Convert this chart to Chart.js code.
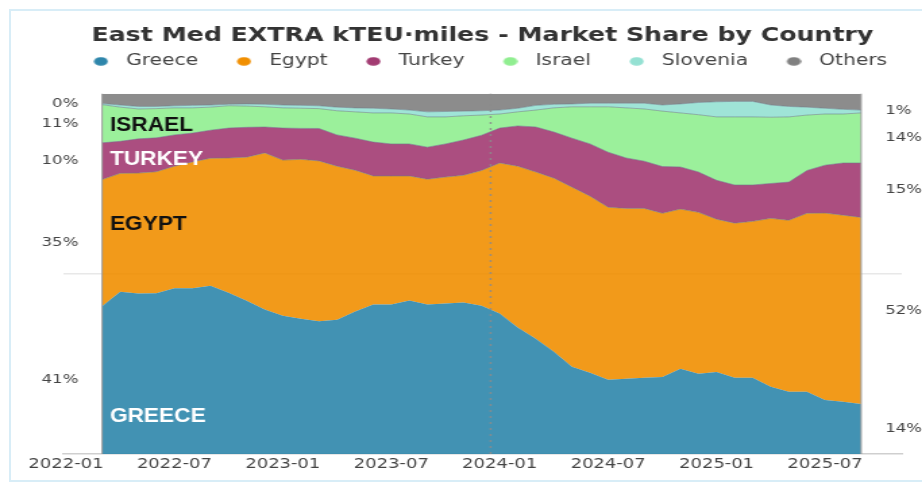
<!DOCTYPE html>
<html>
<head>
<meta charset="utf-8">
<script src="https://cdn.jsdelivr.net/npm/chart.js@4.4.1/dist/chart.umd.min.js"></script>
<style>
    html, body { margin: 0; padding: 0; background: #fff; }
    body { width: 922px; height: 482px; overflow: hidden; position: relative; }
    #frame { position: absolute; left: 9px; top: 9px; width: 930px; height: 469px; border: 2px solid #d8edf7; }
    /* the reference is a horizontally stretched figure, so the canvas is too */
    #wrap { position: absolute; left: 0; top: 0; width: 683px; height: 482px; transform: scaleX(1.35); transform-origin: 0 0; }
</style>
</head>
<body>
<div id="frame"></div>
<div id="wrap"><canvas id="share-chart" width="683" height="482" style="width:683px;height:482px"></canvas></div>
<script>
const months = [
    "2022-03", "2022-04", "2022-05", "2022-06", "2022-07", "2022-08", "2022-09", "2022-10", "2022-11", "2022-12",
    "2023-01", "2023-02", "2023-03", "2023-04", "2023-05", "2023-06", "2023-07", "2023-08", "2023-09", "2023-10",
    "2023-11", "2023-12", "2024-01", "2024-02", "2024-03", "2024-04", "2024-05", "2024-06", "2024-07", "2024-08",
    "2024-09", "2024-10", "2024-11", "2024-12", "2025-01", "2025-02", "2025-03", "2025-04", "2025-05", "2025-06",
    "2025-07", "2025-08", "2025-09"
];

// market share, %
const greece = [41.0, 45.1, 44.6, 44.6, 46.0, 46.0, 46.8, 44.8, 42.6, 40.1,
    38.4, 37.6, 36.8, 37.3, 39.6, 41.5, 41.5, 42.6, 41.5, 41.8,
    42.1, 41.2, 39.0, 35.1, 32.0, 28.4, 24.2, 22.6, 20.6, 20.9,
    21.2, 21.4, 23.7, 22.3, 22.8, 21.2, 21.2, 18.7, 17.3, 17.3,
    15.0, 14.5, 13.9];
const egypt = [35.2, 32.9, 33.4, 33.7, 33.9, 35.1, 35.4, 37.4, 39.9, 43.5,
    43.2, 44.3, 44.5, 42.6, 39.2, 35.7, 35.7, 34.6, 34.8, 35.1,
    35.3, 37.6, 41.8, 44.8, 46.3, 48.2, 49.9, 49.0, 47.9, 47.3,
    47.0, 45.5, 44.3, 44.8, 42.4, 42.9, 43.4, 46.8, 47.6, 49.6,
    51.9, 51.8, 51.8];
const turkey = [10.2, 8.9, 9.5, 9.4, 8.7, 8.0, 7.8, 8.3, 8.3, 7.2,
    8.9, 8.6, 9.0, 8.7, 8.9, 9.4, 8.9, 8.9, 8.9, 9.2,
    9.8, 9.8, 9.7, 11.2, 12.5, 12.8, 13.6, 14.5, 15.3, 14.0,
    13.1, 13.0, 11.7, 11.2, 10.8, 10.6, 10.1, 9.7, 10.6, 11.9,
    13.3, 14.5, 15.1];
const israel = [10.6, 9.5, 8.3, 8.1, 7.5, 7.0, 6.4, 6.2, 5.9, 5.6,
    5.6, 5.6, 5.5, 6.7, 7.3, 8.1, 8.6, 8.3, 8.4, 7.5,
    6.7, 5.6, 3.9, 3.9, 4.7, 6.7, 8.7, 10.3, 12.6, 13.9,
    14.5, 15.4, 15.0, 15.9, 17.6, 18.9, 18.9, 18.4, 18.1, 15.4,
    14.2, 13.6, 13.9];
const slovenia = [0.3, 0.6, 0.7, 0.6, 0.6, 0.7, 0.6, 0.4, 0.6, 0.7,
    0.8, 0.8, 0.8, 1.0, 1.1, 1.3, 1.1, 1.1, 1.4, 1.5,
    1.3, 1.2, 1.1, 1.0, 1.3, 1.0, 0.8, 1.0, 1.0, 1.3,
    1.6, 1.7, 2.5, 3.4, 4.2, 4.3, 4.3, 3.4, 2.9, 2.2,
    1.6, 1.3, 0.8];
const others = [2.7, 3.1, 3.5, 3.5, 3.3, 3.2, 3.1, 2.9, 2.8, 2.9,
    3.1, 3.2, 3.3, 3.7, 3.9, 4.0, 4.2, 4.5, 5.0, 4.9,
    4.8, 4.7, 4.5, 4.0, 3.2, 2.9, 2.8, 2.6, 2.6, 2.6,
    2.6, 3.1, 2.8, 2.4, 2.2, 2.1, 2.1, 3.1, 3.5, 3.7,
    4.0, 4.3, 4.5];

const seriesNames = ["Greece", "Egypt", "Turkey", "Israel", "Slovenia", "Others"];
const seriesValues = [greece, egypt, turkey, israel, slovenia, others];
const seriesColors = ["#2E86AB", "#F18F01", "#A23B72", "#90EE90", "#95E1D3", "#808080"];

const tickLabels = ["2022-01", "2022-07", "2023-01", "2023-07", "2024-01", "2024-07", "2025-01", "2025-07"];
const markerMonth = "2023-12";

const bandLabels = ["GREECE", "EGYPT", "TURKEY", "ISRAEL"];
const bandLabelShare = [10.9, 64.2, 82.3, 91.7];
const bandLabelColors = ["#ffffff", "#111111", "#ffffff", "#111111"];

const monthIndex = function (code) {
    return (Number(code.slice(0, 4)) - 2022) * 12 + Number(code.slice(5, 7)) - 1;
};

const withAlpha = function (hex, alpha) {
    const n = parseInt(hex.slice(1), 16);
    return `rgba(${(n >> 16) & 255}, ${(n >> 8) & 255}, ${n & 255}, ${alpha})`;
};

// legend marker: a small dot, drawn a little right of the image centre
const makeDot = function (color) {
    const dot = document.createElement("canvas");
    dot.width = 17;
    dot.height = 9;
    const g = dot.getContext("2d");
    g.fillStyle = color;
    g.beginPath();
    g.ellipse(11.5, 4.5, 5.2, 4.3, 0, 0, Math.PI * 2);
    g.fill();
    return dot;
};

// shares of each month, rescaled so the stack closes at 100 %
const totals = months.map((m, i) => seriesValues.reduce((sum, s) => sum + s[i], 0));
const shares = seriesValues.map(s => s.map((v, i) => v / totals[i] * 100));

const datasets = seriesNames.map((name, k) => ({
    label: name,
    data: months.map((m, i) => ({x: monthIndex(m), y: shares[k][i]})),
    fill: k === 0 ? "origin" : "-1",
    backgroundColor: withAlpha(seriesColors[k], 0.9),
    borderColor: (k === 0 || k === 5) ? "rgba(0,0,0,0)" : "rgba(105, 120, 135, 0.55)",
    borderWidth: 1,
    pointRadius: 0,
    pointHoverRadius: 0,
    pointStyle: makeDot(seriesColors[k]),
    tension: 0
}));

const overlayPlugin = {
    id: "overlay",
    afterDraw(chart) {
        const {ctx} = chart;
        const x = chart.scales.x, y = chart.scales.y;
        const first = 0, last = months.length - 1;
        const x0 = x.getPixelForValue(monthIndex(months[first]));
        const x1 = x.getPixelForValue(monthIndex(months[last]));
        const top = y.getPixelForValue(100), bottom = y.getPixelForValue(0);

        ctx.save();

        // edges of the stacked area
        ctx.strokeStyle = "rgba(150, 150, 150, 0.9)";
        ctx.lineWidth = 1.1;
        ctx.beginPath();
        ctx.moveTo(x0, bottom); ctx.lineTo(x0, top);
        ctx.moveTo(x1, bottom); ctx.lineTo(x1, top);
        ctx.stroke();

        // dotted marker
        const xm = x.getPixelForValue(monthIndex(markerMonth) + 0.5);
        ctx.setLineDash([2, 4]);
        ctx.lineWidth = 1.5;
        ctx.strokeStyle = "rgba(140, 140, 140, 0.85)";
        ctx.beginPath();
        ctx.moveTo(xm, bottom); ctx.lineTo(xm, top);
        ctx.stroke();
        ctx.setLineDash([]);

        // start / end share labels
        const labelSide = function (i, px, align, shift) {
            let base = 0;
            ctx.textAlign = align;
            for (let k = 0; k < 5; k++) {
                const v = shares[k][i];
                const mid = y.getPixelForValue(base + v / 2);
                ctx.fillText(Math.round(v) + "%", px, mid + shift);
                base += v;
            }
        };
        ctx.font = "12.3px 'DejaVu Sans'";
        ctx.fillStyle = "#444";
        ctx.textBaseline = "alphabetic";
        labelSide(first, x0 - 17.5, "right", 3.2);
        labelSide(last, x1 + 17.8, "left", 3);

        // country names in the bands
        ctx.font = "bold 21px 'Liberation Sans'";
        ctx.textAlign = "left";
        bandLabels.forEach((text, k) => {
            ctx.save();
            ctx.translate(x0 + 5.8, y.getPixelForValue(bandLabelShare[k]) + 7.2);
            ctx.scale(0.8, 1);
            ctx.fillStyle = bandLabelColors[k];
            ctx.fillText(text, 0, 0);
            ctx.restore();
        });

        ctx.restore();
    }
};

Chart.defaults.font.family = "'DejaVu Sans'";

const shareChart = new Chart(document.getElementById("share-chart").getContext("2d"), {
    type: "line",
    data: {datasets: datasets},
    plugins: [overlayPlugin],
    options: {
        responsive: false,
        animation: false,
        devicePixelRatio: 1,
        layout: {padding: {left: 31.7, right: 0, top: 0, bottom: 6}},
        plugins: {
            title: {
                display: true,
                text: "East Med EXTRA kTEU·miles - Market Share by Country",
                color: "#333",
                font: {size: 18.7, weight: "bold"},
                padding: {top: 24.5, bottom: -9.9}
            },
            legend: {
                display: true,
                labels: {
                    usePointStyle: true,
                    pointStyleWidth: 28.3,
                    boxHeight: 9,
                    padding: 16.8,
                    color: "#444",
                    font: {size: 15}
                }
            },
            tooltip: {enabled: false}
        },
        scales: {
            x: {
                type: "linear",
                min: -0.16,
                max: 46.25,
                afterBuildTicks: axis => {
                    axis.ticks = tickLabels.map(t => ({value: monthIndex(t)}));
                },
                ticks: {
                    autoSkip: false,
                    maxRotation: 0,
                    padding: 3,
                    color: "#444",
                    font: {size: 13.3},
                    callback: (value, index) => tickLabels[index]
                },
                grid: {display: false, drawTicks: false},
                border: {display: true, color: "#cfcfcf", width: 1.5},
                z: 1
            },
            x2: {
                type: "linear",
                position: "top",
                ticks: {display: false},
                grid: {display: false, drawTicks: false},
                border: {display: false},
                afterFit: axis => { axis.height = 15; }
            },
            y: {
                stacked: true,
                min: 0,
                max: 100,
                ticks: {display: false, stepSize: 50},
                grid: {
                    drawTicks: false,
                    lineWidth: 1.5,
                    color: c => (c.tick && c.tick.value === 50) ? "rgba(228, 228, 228, 0.85)" : "rgba(0, 0, 0, 0)"
                },
                border: {display: false},
                afterFit: axis => { axis.width = 15; },
                z: 1
            },
            y2: {
                type: "linear",
                position: "right",
                ticks: {display: false},
                grid: {display: false, drawTicks: false},
                border: {display: false},
                afterFit: axis => { axis.width = 15; }
            }
        }
    }
});
</script>
</body>
</html>
